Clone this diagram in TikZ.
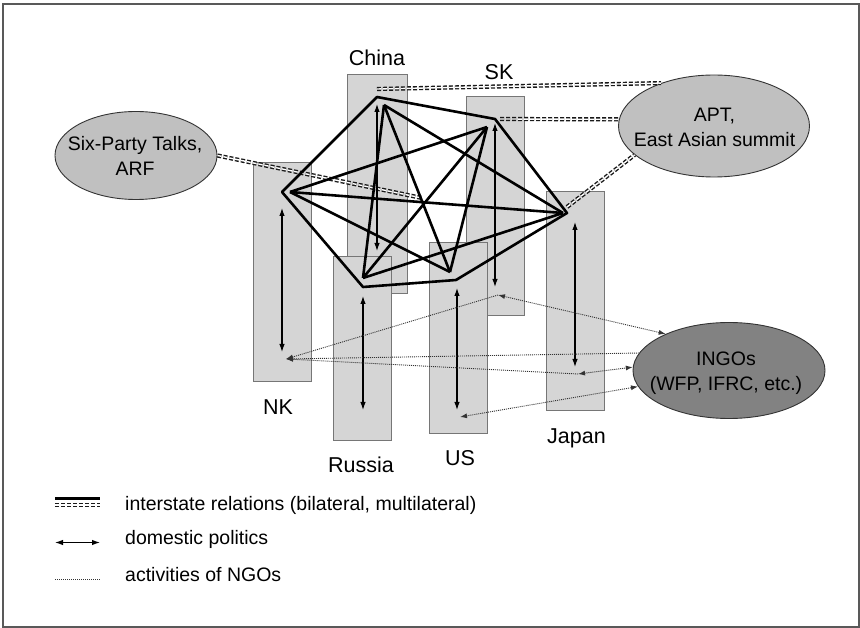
\documentclass[tikz,border=0pt]{standalone}
\usepackage{fontspec}
\setmainfont{Liberation Sans}
\usepackage{tikz}
\usetikzlibrary{shapes.geometric,arrows.meta}
\definecolor{boxgray}{RGB}{213,213,213}
\definecolor{boxline}{RGB}{118,118,118}
\definecolor{ovalgray}{RGB}{192,192,192}
\definecolor{ngogray}{RGB}{130,130,130}

\begin{document}
\begin{tikzpicture}[x=1pt,y=-1pt,
	state/.style={draw=boxline,fill=boxgray,line width=1pt,minimum width=58pt,minimum height=219pt,inner sep=0pt},
	forum/.style={shape=ellipse,draw=black!80,line width=0.9pt,fill=ovalgray,inner sep=0pt},
	country/.style={font=\fontsize{21.5}{25}\selectfont,inner sep=0pt},
	caption/.style={font=\fontsize{19.5}{25}\selectfont,align=center,inner sep=0pt},
	relation/.style={line width=2.6pt,line join=round},
	forumlink/.style={draw=black!90,line width=1.4pt,double=white,double distance=1.4pt,dash pattern=on 4pt off 2pt},
	domestic/.style={line width=1.1pt,{Latex[length=8pt,width=5.5pt]}-{Latex[length=8pt,width=5.5pt]}},
	ngo/.style={draw=black!80,line width=0.9pt,dash pattern=on 1pt off 1pt,>={Latex[length=7pt,width=5pt]}}]
	\useasboundingbox (0,0) rectangle (860,628);
	\draw[draw=black!65,line width=1.5pt] (3,4) rectangle (859,627);

	\node[state,minimum width=60pt] (china) at (377,184.5) {};
	\node[state] (sk) at (495,206.5) {};
	\node[state] (nk) at (282,272.5) {};
	\node[state] (japan) at (575,301.5) {};
	\node[state,minimum height=183pt] (russia) at (362.5,348.5) {};
	\node[state,minimum height=190pt] (us) at (458,338) {};

	\node[country] (chinalabel) at (377,58) {China};
	\node[country] (sklabel) at (499,72.5) {SK};
	\node[country] (nklabel) at (278,407.5) {NK};
	\node[country] (russialabel) at (361,465) {Russia};
	\node[country] (uslabel) at (460,458) {US};
	\node[country] (japanlabel) at (576.5,438) {Japan};

	\node[forum,minimum width=162pt,minimum height=88pt] (sixparty) at (136,155.5) {};
	\node[forum,minimum width=191pt,minimum height=102pt] (apt) at (714,126) {};
	\node[forum,fill=ngogray,minimum width=192pt,minimum height=96pt] (ingos) at (729,370.5) {};
	\node[caption] (sixpartytext) at (135,156) {Six-Party Talks,\\ARF};
	\node[caption] (apttext) at (714.5,127) {APT,\\East Asian summit};
	\node[caption] (ingostext) at (726,373) {INGOs\\(WFP, IFRC, etc.)};

	\coordinate (hub) at (422,198);
	\coordinate (chinaforum) at (377,89);
	\coordinate (skforum) at (500,119);
	\coordinate (japanforum) at (567,207);
	\draw[forumlink] (sixparty.east) -- (hub);
	\draw[forumlink] (chinaforum) -- (apt.141);
	\draw[forumlink] (skforum) -- (apt.176);
	\draw[forumlink] (japanforum) -- (apt.200);

	\coordinate (nkout) at (282,192);
	\coordinate (nkin) at (290,192);
	\coordinate (chinaout) at (377,97);
	\coordinate (chinain) at (384,105);
	\coordinate (skout) at (495,119);
	\coordinate (skin) at (487,127);
	\coordinate (japanout) at (567,213);
	\coordinate (japanin) at (563,213);
	\coordinate (usout) at (456,280);
	\coordinate (usin) at (450,272);
	\coordinate (russiaout) at (363,287);
	\coordinate (russiain) at (363,278);

	\draw[relation] (nkout) -- (chinaout) -- (skout) -- (japanout) -- (usout) -- (russiaout) -- cycle;
	\path[relation] (nkin) edge (skin);
	\path[relation] (nkin) edge (japanin);
	\path[relation] (nkin) edge (usin);
	\path[relation] (chinain) edge (russiain);
	\path[relation] (chinain) edge (usin);
	\path[relation] (chinain) edge (japanin);
	\path[relation] (skin) edge (russiain);
	\path[relation] (skin) edge (usin);
	\path[relation] (russiain) edge (japanin);

	\coordinate (nktop) at (282,208);
	\coordinate (nkbot) at (282,352);
	\coordinate (chinatop) at (377,104);
	\coordinate (chinabot) at (377,251);
	\coordinate (sktop) at (495,123);
	\coordinate (skbot) at (495,287);
	\coordinate (japantop) at (575,222);
	\coordinate (japanbot) at (575,367);
	\coordinate (russiatop) at (363,296);
	\coordinate (russiabot) at (363,410);
	\coordinate (ustop) at (457,288);
	\coordinate (usbot) at (457,410);
	\draw[domestic] (nktop) -- (nkbot);
	\draw[domestic] (chinatop) -- (chinabot);
	\draw[domestic] (sktop) -- (skbot);
	\draw[domestic] (japantop) -- (japanbot);
	\draw[domestic] (russiatop) -- (russiabot);
	\draw[domestic] (ustop) -- (usbot);

	\coordinate (skngo) at (498,295);
	\coordinate (nkngo) at (286,359);
	\coordinate (japanngo) at (578,374);
	\coordinate (usngo) at (460,417);
	\draw[ngo,<->] (skngo) -- (ingos.150);
	\draw[ngo,->] (skngo) -- (nkngo);
	\draw[ngo,->] (ingos.169) -- (nkngo);
	\draw[ngo,->] (japanngo) -- (nkngo);
	\draw[ngo,<->] (japanngo) -- (ingos.178);
	\draw[ngo,<->] (usngo) -- (ingos.190);

	\coordinate (keyrelA) at (55,498);
	\coordinate (keyrelB) at (100,498);
	\coordinate (keyforumA) at (55,505);
	\coordinate (keyforumB) at (100,505);
	\coordinate (keydomA) at (55,542.5);
	\coordinate (keydomB) at (100,542.5);
	\coordinate (keyngoA) at (55,579);
	\coordinate (keyngoB) at (100,579);
	\draw[relation,line width=3pt] (keyrelA) -- (keyrelB);
	\draw[forumlink] (keyforumA) -- (keyforumB);
	\draw[domestic] (keydomA) -- (keydomB);
	\draw[ngo] (keyngoA) -- (keyngoB);
	\node[caption,anchor=west] (keyrel) at (125,505) {interstate relations (bilateral, multilateral)};
	\node[caption,anchor=west] (keydom) at (125,539) {domestic politics};
	\node[caption,anchor=west] (keyngo) at (125,575) {activities of NGOs};
		
\end{tikzpicture}
\end{document}
